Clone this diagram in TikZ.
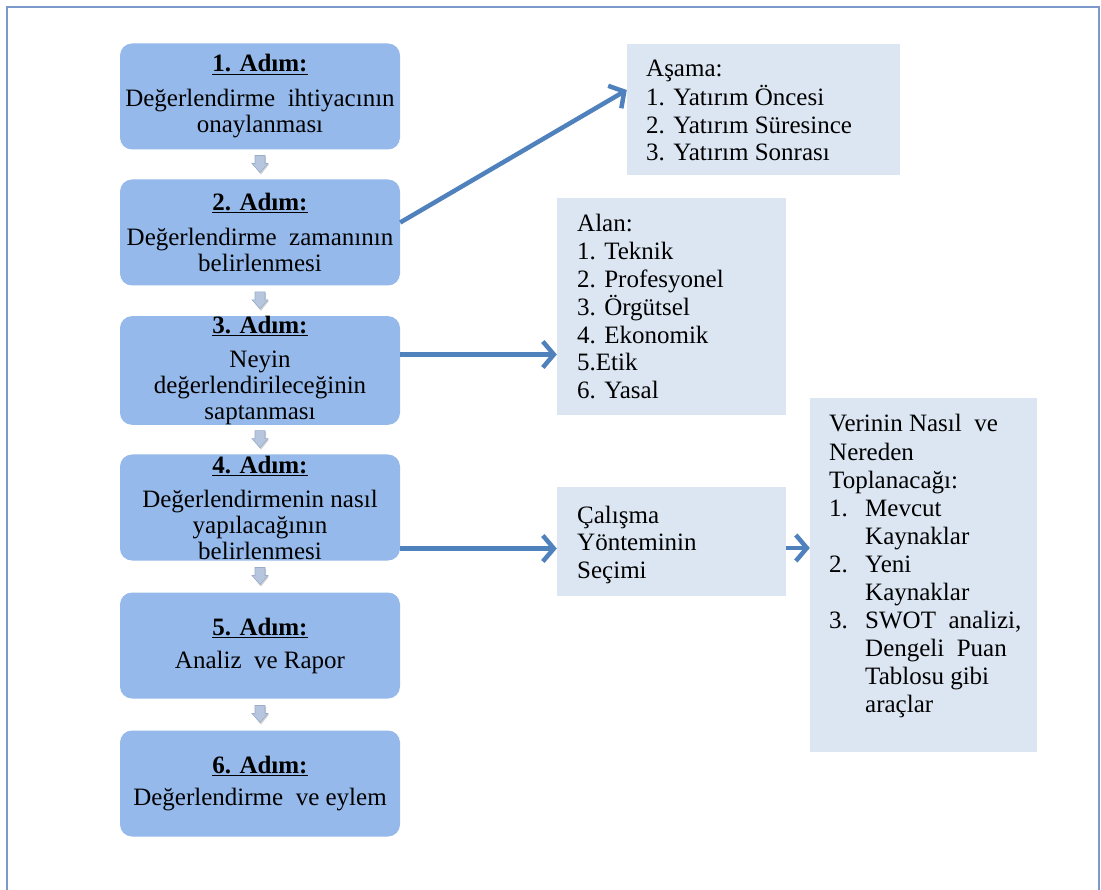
\documentclass[tikz,border=0pt]{standalone}
\usepackage{fontspec}
\setmainfont{Liberation Serif}
\usetikzlibrary{arrows.meta,calc}
\definecolor{stepblue}{HTML}{95B9EA}
\definecolor{notebg}{HTML}{DCE6F2}
\definecolor{arrblue}{HTML}{4F81BD}
\definecolor{framec}{HTML}{7B9ACB}
\definecolor{smallarr}{HTML}{B7C6DF}
\definecolor{smallarrd}{HTML}{9AACC8}
\newcommand{\stephead}[1]{\textbf{\underline{#1}}}
\tikzset{
  stepbox/.style={rectangle, rounded corners=12pt, fill=stepblue,
    minimum width=280pt, minimum height=106pt, inner sep=0pt,
    align=center, font=\fontsize{25}{26}\selectfont},
  notebox/.style={rectangle, fill=notebg, inner sep=0pt},
  notetext/.style={anchor=base west, inner sep=0pt, font=\fontsize{25}{27.6}\selectfont},
  bigarrow/.style={draw=arrblue, line width=4.5pt,
    -{Straight Barb[length=11pt,width=26pt]}},
}
\newcommand{\downblock}[2]{%
  \begin{scope}[shift={($(#1.south)!0.5!(#2.north)$)}]
    \fill[black!18] (-4,-8) -- (6,-8) -- (6,0) -- (9,0) -- (1,10) -- (-7,0) -- (-4,0) -- cycle;
    \filldraw[fill=smallarr, draw=smallarrd, line width=0.6pt]
      (-5,-9) -- (5,-9) -- (5,-1) -- (8,-1) -- (0,8) -- (-8,-1) -- (-5,-1) -- cycle;
  \end{scope}}
\begin{document}
\begin{tikzpicture}[x=1pt,y=-1pt]
\useasboundingbox (0,0) rectangle (1101,890);
\fill[white] (0,0) rectangle (1101,890);
\draw[framec, line width=1.5pt] (7,7) rectangle (1099,905);

% steps
\node[stepbox] (b1) at (260,96.5) {\stephead{1. Adım:}\\[9pt]Değerlendirme\ \ ihtiyacının\\onaylanması};
\node[stepbox] (b2) at (260,232.5) {\stephead{2. Adım:}\\[9pt]Değerlendirme\ \ zamanının\\belirlenmesi};
\node[stepbox] (b3) at (260,370.5) {\stephead{3. Adım:}\\[8pt]Neyin\\değerlendirileceğinin\\saptanması};
\node[stepbox] (b4) at (260,507.5) {\stephead{4. Adım:}\\[8pt]Değerlendirmenin nasıl\\yapılacağının\\belirlenmesi};
\node[stepbox] (b5) at (260,645.5) {\stephead{5. Adım:}\\[7pt]Analiz\ \ ve Rapor};
\node[stepbox] (b6) at (260,783.5) {\stephead{6. Adım:}\\[6pt]Değerlendirme\ \ ve eylem};

\downblock{b1}{b2}
\downblock{b2}{b3}
\downblock{b3}{b4}
\downblock{b4}{b5}
\downblock{b5}{b6}

% note boxes
\node[notebox, minimum width=273pt, minimum height=131pt] (asama) at (763.5,109.5) {};
\node[notebox, minimum width=229pt, minimum height=217pt] (alan) at (671.5,306.5) {};
\node[notebox, minimum width=229pt, minimum height=109pt] (calisma) at (671.5,541.5) {};
\node[notebox, minimum width=227pt, minimum height=354pt] (verinin) at (923.5,575) {};

\node[notetext] (asamatext) at (646,77) {\begin{tabular}[t]{@{}l@{}}Aşama:\\1. Yatırım Öncesi\\2. Yatırım Süresince\\3. Yatırım Sonrası\end{tabular}};
\node[notetext] (alantext) at (577,232) {\begin{tabular}[t]{@{}l@{}}Alan:\\1. Teknik\\2. Profesyonel\\3. Örgütsel\\4. Ekonomik\\5.Etik\\6. Yasal\end{tabular}};
\node[notetext] (calismatext) at (577,523) {\begin{tabular}[t]{@{}l@{}}Çalışma\\Yönteminin\\Seçimi\end{tabular}};
\node[notetext, font=\fontsize{25}{28.1}\selectfont] (verinintext) at (829,432) {\begin{tabular}[t]{@{}p{36pt}@{}l@{}}\multicolumn{2}{@{}l@{}}{Verinin Nasıl\ \ ve}\\\multicolumn{2}{@{}l@{}}{Nereden}\\\multicolumn{2}{@{}l@{}}{Toplanacağı:}\\1.&Mevcut\\&Kaynaklar\\2.&Yeni\\&Kaynaklar\\3.&SWOT\ \ analizi,\\&Dengeli\ \ Puan\\&Tablosu gibi\\&araçlar\end{tabular}};

% connectors
\coordinate (s2) at ($(b2.east)+(0,-10)$);
\coordinate (e2) at ($(asama.west)+(0,-19.5)$);
\draw[bigarrow] (s2) -- (e2);
\coordinate (s3) at ($(b3.east)+(0,-16)$);
\draw[bigarrow] (s3) -- (s3 -| alan.west);
\coordinate (s4) at ($(b4.east)+(0,41)$);
\draw[bigarrow] (s4) -- (s4 -| calisma.west);
\coordinate (s5) at ($(calisma.east)+(0,6.5)$);
\draw[bigarrow] (s5) -- (s5 -| verinin.west);
\end{tikzpicture}
\end{document}
